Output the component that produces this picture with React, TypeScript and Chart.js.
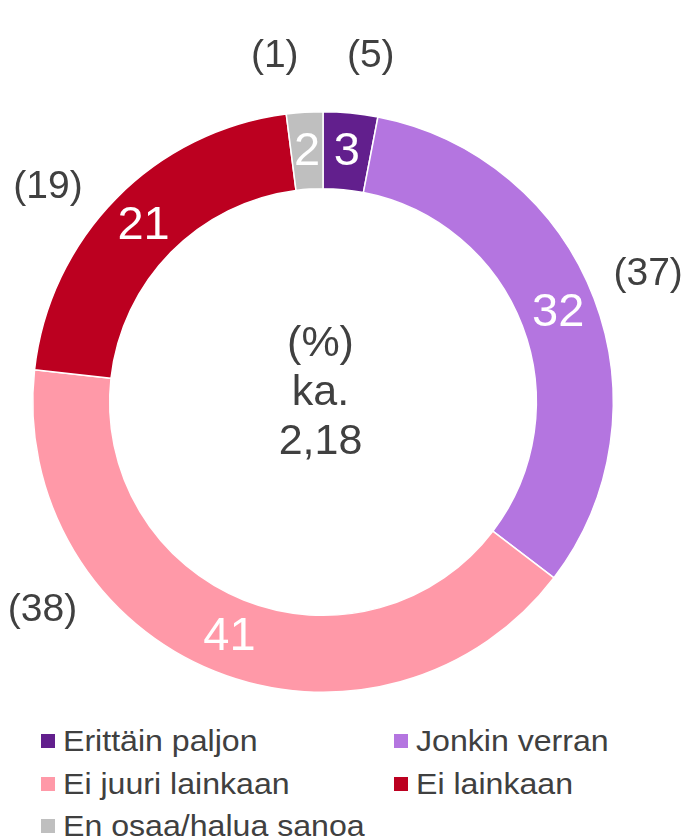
import React, { useEffect, useRef } from "react";
import { Chart, registerables } from "chart.js";

Chart.register(...registerables);

const categories = [
  "Erittäin paljon",
  "Jonkin verran",
  "Ei juuri lainkaan",
  "Ei lainkaan",
  "En osaa/halua sanoa",
];
const currentValues = [3, 32, 41, 21, 2];
const previousValues = [5, 37, 38, 19, 1];
const centerLines = ["(%)", "ka.", "2,18"];
const sliceColors = ["#621f8d", "#b475e0", "#ff99a8", "#bc0020", "#bfbfbf"];

// style / placement tweaks for the outside (previous-year) labels, in degrees
const outerLabelAngleShift = [2.4, -0.5, 31.6, -6.5, -4.3];
const outerLabelGap = 59;

const FONT = "'Liberation Sans', Arial, sans-serif";
const TEXT = "#404040";

const labelPlugin = {
  id: "sliceLabels",
  afterDatasetsDraw(chart: any) {
    const ctx = chart.ctx as CanvasRenderingContext2D;
    const meta = chart.getDatasetMeta(0);
    let cx = 0;
    let cy = 0;
    ctx.save();
    ctx.textAlign = "center";
    ctx.textBaseline = "middle";
    meta.data.forEach((arc: any, i: number) => {
      const p = arc.getProps(
        ["x", "y", "startAngle", "endAngle", "innerRadius", "outerRadius"],
        true
      );
      cx = p.x;
      cy = p.y;
      const mid = (p.startAngle + p.endAngle) / 2;
      const r = (p.innerRadius + p.outerRadius) / 2;
      ctx.fillStyle = "#ffffff";
      ctx.font = `47px ${FONT}`;
      ctx.fillText(String(currentValues[i]), p.x + Math.cos(mid) * r, p.y + Math.sin(mid) * r + 1);

      const a2 = mid + (outerLabelAngleShift[i] * Math.PI) / 180;
      const r2 = p.outerRadius + outerLabelGap;
      ctx.fillStyle = TEXT;
      ctx.font = `39px ${FONT}`;
      ctx.fillText(`(${previousValues[i]})`, p.x + Math.cos(a2) * r2, p.y + Math.sin(a2) * r2);
    });
    ctx.fillStyle = TEXT;
    ctx.font = `43px ${FONT}`;
    centerLines.forEach((t, i) => {
      ctx.fillText(t, cx - 2.5, cy - 9 + (i - 1) * 49);
    });
    ctx.restore();
  },
};

export default function App() {
  const ref = useRef<HTMLCanvasElement>(null);

  useEffect(() => {
    if (!ref.current) return;
    const chart = new Chart(ref.current, {
      type: "doughnut",
      data: {
        labels: categories,
        datasets: [
          {
            data: currentValues,
            backgroundColor: sliceColors,
            borderColor: "#ffffff",
            borderWidth: 1.5,
            hoverOffset: 0,
          },
        ],
      },
      options: {
        animation: false,
        responsive: false,
        maintainAspectRatio: false,
        cutout: "73.5%",
        layout: { padding: { left: 32, right: 74, top: 111, bottom: 27 } },
        plugins: {
          legend: { display: false },
          tooltip: { enabled: false },
        },
      },
      plugins: [labelPlugin],
    });
    return () => chart.destroy();
  }, []);

  return (
    <div
      style={{
        position: "absolute",
        left: 0,
        top: 0,
        width: 688,
        height: 836,
        background: "#ffffff",
        overflow: "hidden",
        fontFamily: FONT,
      }}
    >
      <canvas ref={ref} width={688} height={720} style={{ display: "block", width: 688, height: 720 }} />
      {categories.map((c, i) => {
        const row = Math.floor(i / 2);
        const col = i % 2;
        const cyRow = 741 + row * 42.5;
        const markerLeft = col === 0 ? 41 : 394;
        return (
          <div key={c}>
            <div
              style={{
                position: "absolute",
                left: markerLeft,
                top: cyRow - 7,
                width: 14,
                height: 14,
                background: sliceColors[i],
              }}
            />
            <div
              style={{
                position: "absolute",
                left: markerLeft + 22,
                top: cyRow - 19,
                height: 38,
                lineHeight: "38px",
                fontSize: 30,
                color: TEXT,
                whiteSpace: "nowrap",
                transform: "scaleX(1.07)",
                transformOrigin: "left center",
              }}
            >
              {c}
            </div>
          </div>
        );
      })}
    </div>
  );
}
